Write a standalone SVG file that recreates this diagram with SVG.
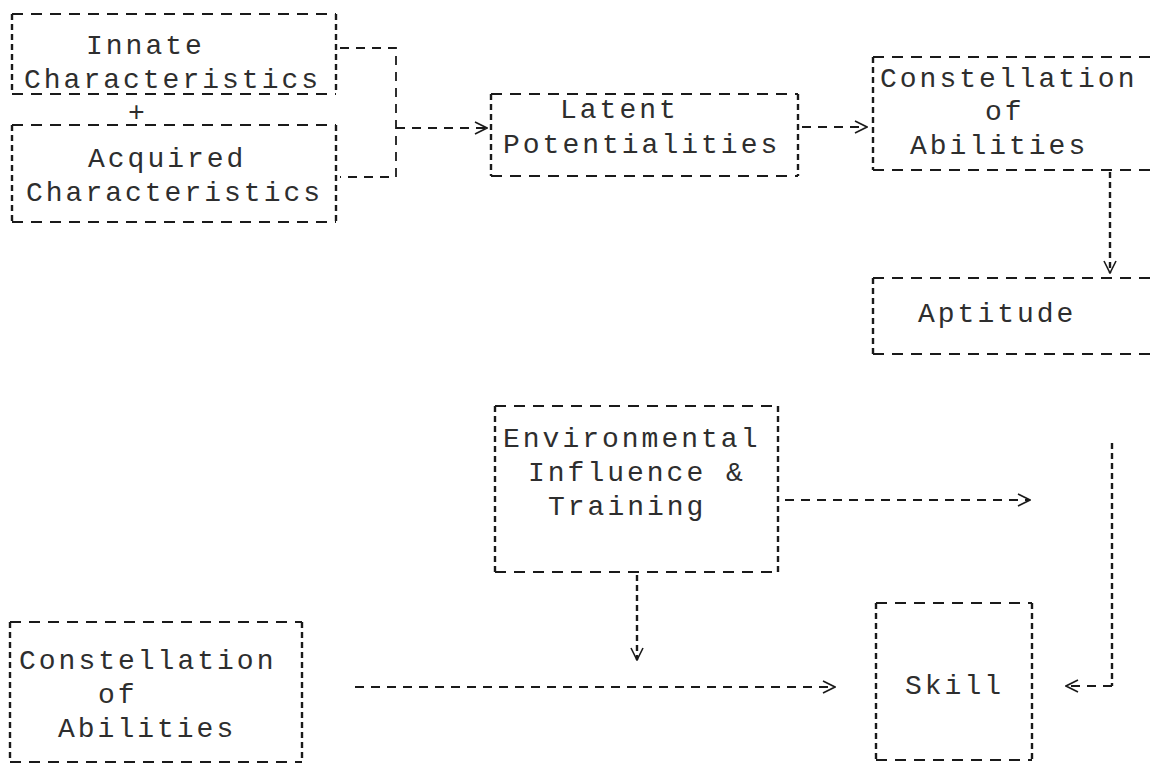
<svg xmlns="http://www.w3.org/2000/svg" width="1151" height="767" viewBox="0 0 1151 767">
<defs>
<style>
.h{fill:none;stroke:#1a1a1a;stroke-width:2.2;stroke-dasharray:11 8}
.v{fill:none;stroke:#1a1a1a;stroke-width:2.4;stroke-dasharray:6 4}
.c{fill:none;stroke:#1a1a1a;stroke-width:1.8;stroke-dasharray:9 7}
.t{font-family:"Liberation Mono","Courier New",monospace;font-size:28px;letter-spacing:3px;fill:#2e2e2e}
</style>
<marker id="ah" viewBox="0 0 14 14" refX="13" refY="7" markerWidth="14" markerHeight="14" markerUnits="userSpaceOnUse" orient="auto">
<path d="M1,1 L13,7 L1,13" fill="none" stroke="#1a1a1a" stroke-width="1.6"/>
</marker>
</defs>
<rect width="1151" height="767" fill="#ffffff"/>

<g id="connectors">
<path class="c" d="M340,48 H396 V177 H340"/>
<path class="c" d="M396,128 H487" marker-end="url(#ah)"/>
<path class="c" d="M802,127 H867" marker-end="url(#ah)"/>
<path class="v" d="M1110,172 V273" marker-end="url(#ah)"/>
<path class="v" d="M1112,443 V686"/>
<path class="c" d="M1112,686 H1066" marker-end="url(#ah)"/>
<path class="c" d="M785,500 H1030" marker-end="url(#ah)"/>
<path class="v" d="M637,575 V660" marker-end="url(#ah)"/>
<path class="c" d="M355,687 H835" marker-end="url(#ah)"/>
</g>

<g id="innate">
<path class="h" d="M12,14 H336 M12,94 H336"/>
<path class="v" d="M12,14 V94 M336,14 V94"/>
<text class="t" x="86" y="54">Innate</text>
<text class="t" x="24" y="88">Characteristics</text>
</g>

<g id="plus">
<text class="t" x="138" y="121" text-anchor="middle">+</text>
</g>

<g id="acquired">
<path class="h" d="M12,125 H336 M12,222 H336"/>
<path class="v" d="M12,125 V222 M336,125 V222"/>
<text class="t" x="88" y="167">Acquired</text>
<text class="t" x="26" y="201">Characteristics</text>
</g>

<g id="latent">
<path class="h" d="M491,94 H798 M491,176 H798"/>
<path class="v" d="M491,94 V176 M798,94 V176"/>
<text class="t" x="560" y="118">Latent</text>
<text class="t" x="503" y="153">Potentialities</text>
</g>

<g id="constellation-top">
<path class="h" d="M873,57 H1151 M873,170 H1151"/>
<path class="v" d="M873,57 V170"/>
<text class="t" x="880" y="87">Constellation</text>
<text class="t" x="985" y="120">of</text>
<text class="t" x="910" y="154">Abilities</text>
</g>

<g id="aptitude">
<path class="h" d="M873,278 H1151 M873,354 H1151"/>
<path class="v" d="M873,278 V354"/>
<text class="t" x="918" y="322">Aptitude</text>
</g>

<g id="environment">
<path class="h" d="M495,406 H778 M495,572 H778"/>
<path class="v" d="M495,406 V572 M778,406 V572"/>
<text class="t" x="503" y="447">Environmental</text>
<text class="t" x="528" y="481">Influence &amp;</text>
<text class="t" x="548" y="515">Training</text>
</g>

<g id="constellation-bottom">
<path class="h" d="M10,622 H302 M10,762 H302"/>
<path class="v" d="M10,622 V762 M302,622 V762"/>
<text class="t" x="19" y="669">Constellation</text>
<text class="t" x="98" y="703">of</text>
<text class="t" x="58" y="737">Abilities</text>
</g>

<g id="skill">
<path class="h" d="M876,603 H1032 M876,760 H1032"/>
<path class="v" d="M876,603 V760 M1032,603 V760"/>
<text class="t" x="905" y="694">Skill</text>
</g>
</svg>
